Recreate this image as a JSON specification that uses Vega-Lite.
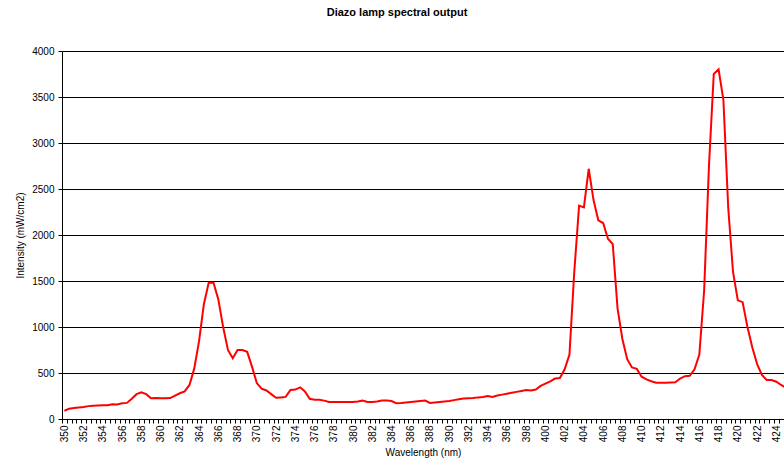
{
  "$schema": "https://vega.github.io/schema/vega-lite/v6.json",
  "width": 722,
  "height": 368,
  "autosize": {"type": "none"},
  "padding": {"left": 62, "top": 51, "right": 0, "bottom": 47},
  "background": "white",
  "title": {
    "text": "Diazo lamp spectral output",
    "font": "Liberation Sans",
    "fontSize": 11,
    "fontWeight": "bold",
    "color": "#000",
    "anchor": "middle",
    "dx": -26,
    "offset": 28
  },
  "config": {
    "view": {"stroke": null},
    "axis": {"labelFont": "Liberation Sans", "titleFont": "Liberation Sans", "labelColor": "#000", "titleColor": "#000", "domainColor": "#000", "tickColor": "#000"}
  },
  "data": {
    "values": [
      {"wl": 350, "intensity": 90}, {"wl": 350.5, "intensity": 112}, {"wl": 351, "intensity": 120}, {"wl": 351.5, "intensity": 125},
      {"wl": 352, "intensity": 130}, {"wl": 352.5, "intensity": 140}, {"wl": 353, "intensity": 145}, {"wl": 353.5, "intensity": 148},
      {"wl": 354, "intensity": 150}, {"wl": 354.5, "intensity": 150}, {"wl": 355, "intensity": 160}, {"wl": 355.5, "intensity": 158},
      {"wl": 356, "intensity": 170}, {"wl": 356.5, "intensity": 175}, {"wl": 357, "intensity": 220}, {"wl": 357.5, "intensity": 270},
      {"wl": 358, "intensity": 290}, {"wl": 358.5, "intensity": 270}, {"wl": 359, "intensity": 225}, {"wl": 359.5, "intensity": 228},
      {"wl": 360, "intensity": 225}, {"wl": 360.5, "intensity": 225}, {"wl": 361, "intensity": 228}, {"wl": 361.5, "intensity": 255},
      {"wl": 362, "intensity": 280}, {"wl": 362.5, "intensity": 300}, {"wl": 363, "intensity": 370}, {"wl": 363.5, "intensity": 550},
      {"wl": 364, "intensity": 850}, {"wl": 364.5, "intensity": 1250}, {"wl": 365, "intensity": 1480}, {"wl": 365.5, "intensity": 1480},
      {"wl": 366, "intensity": 1300}, {"wl": 366.5, "intensity": 1000}, {"wl": 367, "intensity": 750}, {"wl": 367.5, "intensity": 660},
      {"wl": 368, "intensity": 750}, {"wl": 368.5, "intensity": 750}, {"wl": 369, "intensity": 730}, {"wl": 369.5, "intensity": 569},
      {"wl": 370, "intensity": 390}, {"wl": 370.5, "intensity": 330}, {"wl": 371, "intensity": 310}, {"wl": 371.5, "intensity": 270},
      {"wl": 372, "intensity": 230}, {"wl": 372.5, "intensity": 235}, {"wl": 373, "intensity": 240}, {"wl": 373.5, "intensity": 315},
      {"wl": 374, "intensity": 320}, {"wl": 374.5, "intensity": 344}, {"wl": 375, "intensity": 300}, {"wl": 375.5, "intensity": 220},
      {"wl": 376, "intensity": 210}, {"wl": 376.5, "intensity": 210}, {"wl": 377, "intensity": 200}, {"wl": 377.5, "intensity": 185},
      {"wl": 378, "intensity": 185}, {"wl": 378.5, "intensity": 185}, {"wl": 379, "intensity": 185}, {"wl": 379.5, "intensity": 185},
      {"wl": 380, "intensity": 185}, {"wl": 380.5, "intensity": 190}, {"wl": 381, "intensity": 200}, {"wl": 381.5, "intensity": 185},
      {"wl": 382, "intensity": 185}, {"wl": 382.5, "intensity": 190}, {"wl": 383, "intensity": 200}, {"wl": 383.5, "intensity": 200},
      {"wl": 384, "intensity": 195}, {"wl": 384.5, "intensity": 172}, {"wl": 385, "intensity": 175}, {"wl": 385.5, "intensity": 180},
      {"wl": 386, "intensity": 185}, {"wl": 386.5, "intensity": 190}, {"wl": 387, "intensity": 195}, {"wl": 387.5, "intensity": 200},
      {"wl": 388, "intensity": 175}, {"wl": 388.5, "intensity": 180}, {"wl": 389, "intensity": 185}, {"wl": 389.5, "intensity": 190},
      {"wl": 390, "intensity": 195}, {"wl": 390.5, "intensity": 205}, {"wl": 391, "intensity": 215}, {"wl": 391.5, "intensity": 222},
      {"wl": 392, "intensity": 225}, {"wl": 392.5, "intensity": 228}, {"wl": 393, "intensity": 235}, {"wl": 393.5, "intensity": 240},
      {"wl": 394, "intensity": 250}, {"wl": 394.5, "intensity": 240}, {"wl": 395, "intensity": 255}, {"wl": 395.5, "intensity": 265},
      {"wl": 396, "intensity": 275}, {"wl": 396.5, "intensity": 285}, {"wl": 397, "intensity": 295}, {"wl": 397.5, "intensity": 305},
      {"wl": 398, "intensity": 315}, {"wl": 398.5, "intensity": 310}, {"wl": 399, "intensity": 320}, {"wl": 399.5, "intensity": 360},
      {"wl": 400, "intensity": 385}, {"wl": 400.5, "intensity": 410}, {"wl": 401, "intensity": 440}, {"wl": 401.5, "intensity": 445},
      {"wl": 402, "intensity": 540}, {"wl": 402.5, "intensity": 700}, {"wl": 403, "intensity": 1600}, {"wl": 403.5, "intensity": 2320},
      {"wl": 404, "intensity": 2300}, {"wl": 404.5, "intensity": 2720}, {"wl": 405, "intensity": 2380}, {"wl": 405.5, "intensity": 2160},
      {"wl": 406, "intensity": 2130}, {"wl": 406.5, "intensity": 1960}, {"wl": 407, "intensity": 1900}, {"wl": 407.5, "intensity": 1200},
      {"wl": 408, "intensity": 870}, {"wl": 408.5, "intensity": 650}, {"wl": 409, "intensity": 560}, {"wl": 409.5, "intensity": 545},
      {"wl": 410, "intensity": 460}, {"wl": 410.5, "intensity": 430}, {"wl": 411, "intensity": 410}, {"wl": 411.5, "intensity": 395},
      {"wl": 412, "intensity": 395}, {"wl": 412.5, "intensity": 395}, {"wl": 413, "intensity": 398}, {"wl": 413.5, "intensity": 400},
      {"wl": 414, "intensity": 440}, {"wl": 414.5, "intensity": 465}, {"wl": 415, "intensity": 470}, {"wl": 415.5, "intensity": 540},
      {"wl": 416, "intensity": 700}, {"wl": 416.5, "intensity": 1400}, {"wl": 417, "intensity": 2750}, {"wl": 417.5, "intensity": 3750},
      {"wl": 418, "intensity": 3800}, {"wl": 418.5, "intensity": 3470}, {"wl": 419, "intensity": 2300}, {"wl": 419.5, "intensity": 1600},
      {"wl": 420, "intensity": 1290}, {"wl": 420.5, "intensity": 1270}, {"wl": 421, "intensity": 1000}, {"wl": 421.5, "intensity": 780},
      {"wl": 422, "intensity": 600}, {"wl": 422.5, "intensity": 480}, {"wl": 423, "intensity": 425}, {"wl": 423.5, "intensity": 424},
      {"wl": 424, "intensity": 405}, {"wl": 424.5, "intensity": 370}, {"wl": 425, "intensity": 340}
    ]
  },
  "mark": {"type": "line", "color": "#FF0000", "strokeWidth": 2, "clip": true},
  "encoding": {
    "x": {
      "field": "wl",
      "type": "quantitative",
      "scale": {"domain": [349.75, 424.8], "nice": false, "zero": false},
      "axis": {
        "title": "Wavelength (nm)",
        "titleFontSize": 10,
        "titleFontWeight": "normal",
        "titlePadding": 6,
        "tickCount": 150,
        "labelOverlap": false,
        "labelFlush": false,
        "labelAngle": 270,
        "labelFontSize": 10,
        "labelPadding": 2,
        "labelExpr": "datum.value % 2 === 0 ? datum.value : ''",
        "tickOffset": -2.4,
        "labelOffset": 2.4,
        "tickSize": 4,
        "grid": false
      }
    },
    "y": {
      "field": "intensity",
      "type": "quantitative",
      "scale": {"domain": [0, 4000], "nice": false},
      "axis": {
        "title": "Intensity (mW/cm2)",
        "titleFontSize": 10,
        "titleFontWeight": "normal",
        "titlePadding": 6,
        "format": "d",
        "values": [0, 500, 1000, 1500, 2000, 2500, 3000, 3500, 4000],
        "labelFontSize": 10,
        "labelPadding": 4,
        "tickSize": 4,
        "grid": true,
        "gridColor": "#000",
        "gridOpacity": 1
      }
    }
  }
}
